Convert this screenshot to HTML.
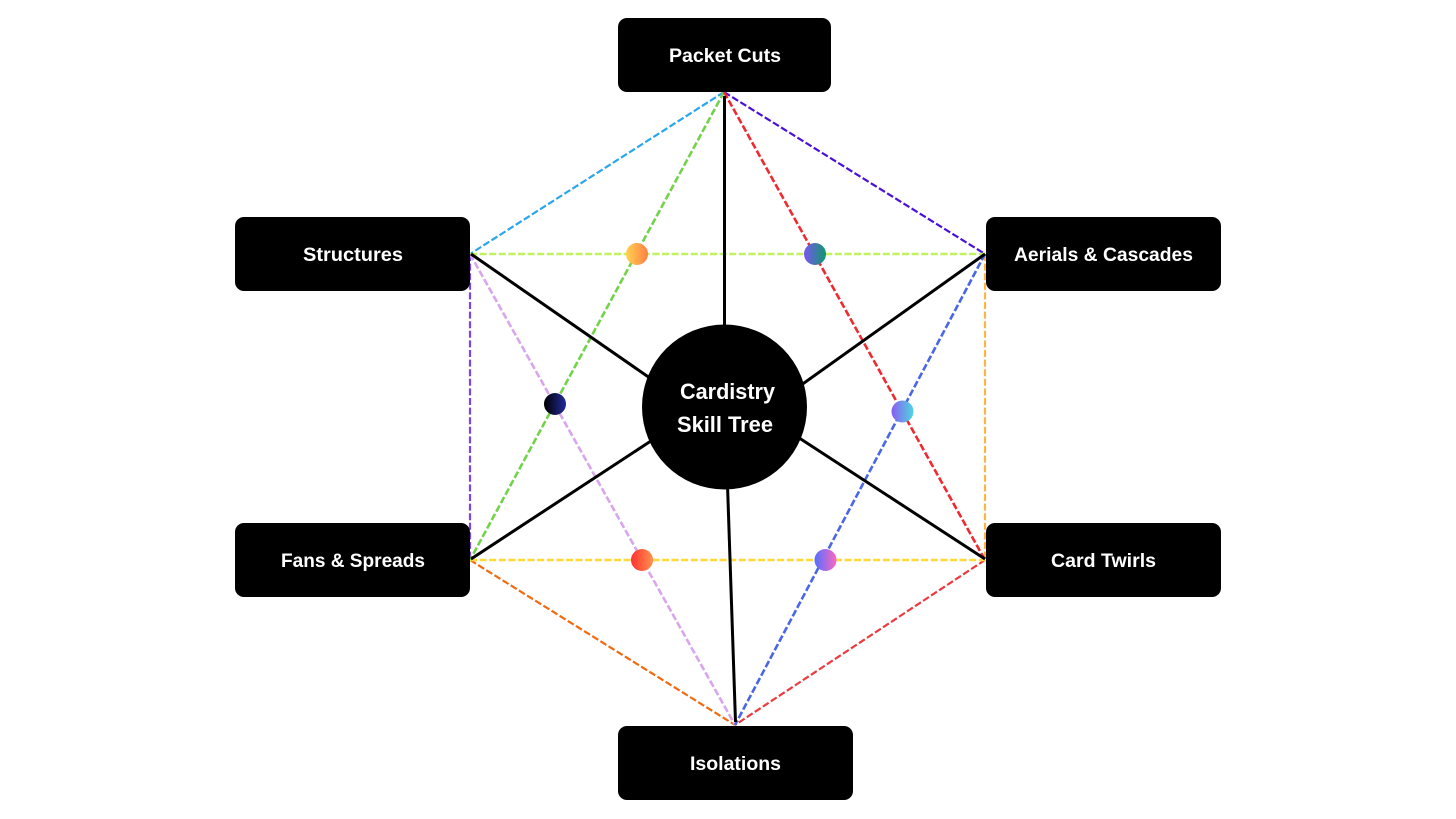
<!DOCTYPE html>
<html>
<head>
<meta charset="utf-8">
<style>
html,body{margin:0;padding:0;background:#fff;}
svg{display:block;}
text{font-family:"Liberation Sans",sans-serif;font-weight:700;fill:#fff;text-anchor:start;}
</style>
</head>
<body>
<svg width="1456" height="819" viewBox="0 0 1456 819" xmlns="http://www.w3.org/2000/svg">
<defs>
<linearGradient id="g1"><stop offset="0" stop-color="#ffd24f"/><stop offset="1" stop-color="#ff7f45"/></linearGradient>
<linearGradient id="g2"><stop offset="0" stop-color="#7a55f0"/><stop offset="1" stop-color="#0c9a6c"/></linearGradient>
<linearGradient id="g3"><stop offset="0" stop-color="#000"/><stop offset="1" stop-color="#232a9c"/></linearGradient>
<linearGradient id="g4"><stop offset="0" stop-color="#8a5cf2"/><stop offset="1" stop-color="#4fd6e0"/></linearGradient>
<linearGradient id="g5"><stop offset="0" stop-color="#ff3131"/><stop offset="1" stop-color="#ff914d"/></linearGradient>
<linearGradient id="g6"><stop offset="0" stop-color="#5170ff"/><stop offset="1" stop-color="#ff66c4"/></linearGradient>
</defs>

<g fill="none" stroke-width="2.2" stroke-dasharray="7 2.6">
<line x1="724" y1="92" x2="470" y2="254" stroke="#2aa5ee"/>
<line x1="724" y1="92" x2="985" y2="254" stroke="#4a10d8"/>
<line x1="470" y1="254" x2="470" y2="560" stroke="#7a44f2"/>
<line x1="985" y1="254" x2="985" y2="560" stroke="#ffb347"/>
<line x1="470" y1="560" x2="735" y2="725" stroke="#f26a10"/>
<line x1="985" y1="560" x2="735" y2="725" stroke="#ee3a3f"/>
<line x1="470" y1="254" x2="985" y2="254" stroke="#c1f25f" stroke-width="2.6"/>
<line x1="470" y1="560" x2="985" y2="560" stroke="#ffd93d" stroke-width="2.6"/>
<line x1="724" y1="92" x2="470" y2="560" stroke="#72d34a" stroke-width="2.6"/>
<line x1="724" y1="92" x2="985" y2="560" stroke="#ee2a30" stroke-width="2.6"/>
<line x1="470" y1="254" x2="735" y2="725" stroke="#d9a5ec" stroke-width="2.6"/>
<line x1="985" y1="254" x2="735" y2="725" stroke="#4a66e8" stroke-width="2.6"/>
</g>

<g stroke="#000" stroke-width="3" fill="none">
<line x1="724.5" y1="96" x2="724.5" y2="340"/>
<line x1="471" y1="254" x2="660" y2="385"/>
<line x1="985" y1="254" x2="790" y2="393"/>
<line x1="471" y1="559" x2="660" y2="435"/>
<line x1="985" y1="559" x2="790" y2="432"/>
<line x1="727" y1="470" x2="735.5" y2="722"/>
</g>

<circle cx="724.5" cy="407" r="82.5" fill="#000"/>

<rect x="618" y="18" width="213" height="74" rx="9" fill="#000"/>
<rect x="235" y="217" width="235" height="74" rx="9" fill="#000"/>
<rect x="986" y="217" width="235" height="74" rx="9" fill="#000"/>
<rect x="235" y="523" width="235" height="74" rx="9" fill="#000"/>
<rect x="986" y="523" width="235" height="74" rx="9" fill="#000"/>
<rect x="618" y="726" width="235" height="74" rx="9" fill="#000"/>

<circle cx="637" cy="254" r="11" fill="url(#g1)"/>
<circle cx="815" cy="254" r="11" fill="url(#g2)"/>
<circle cx="555" cy="404" r="11" fill="url(#g3)"/>
<circle cx="902.5" cy="411.5" r="11" fill="url(#g4)"/>
<circle cx="642" cy="560" r="11" fill="url(#g5)"/>
<circle cx="825.5" cy="560" r="11" fill="url(#g6)"/>

<g font-size="19">
<text x="669" y="62" textLength="112" lengthAdjust="spacingAndGlyphs">Packet Cuts</text>
<text x="303" y="261" textLength="100" lengthAdjust="spacingAndGlyphs">Structures</text>
<text x="1014" y="261" textLength="179" lengthAdjust="spacingAndGlyphs">Aerials &amp; Cascades</text>
<text x="281" y="567" textLength="144" lengthAdjust="spacingAndGlyphs">Fans &amp; Spreads</text>
<text x="1051" y="567" textLength="105" lengthAdjust="spacingAndGlyphs">Card Twirls</text>
<text x="690" y="770" textLength="91" lengthAdjust="spacingAndGlyphs">Isolations</text>
</g>
<g font-size="22">
<text x="680" y="399" textLength="95" lengthAdjust="spacingAndGlyphs">Cardistry</text>
<text x="677" y="432" textLength="96" lengthAdjust="spacingAndGlyphs">Skill Tree</text>
</g>
</svg>
</body>
</html>
